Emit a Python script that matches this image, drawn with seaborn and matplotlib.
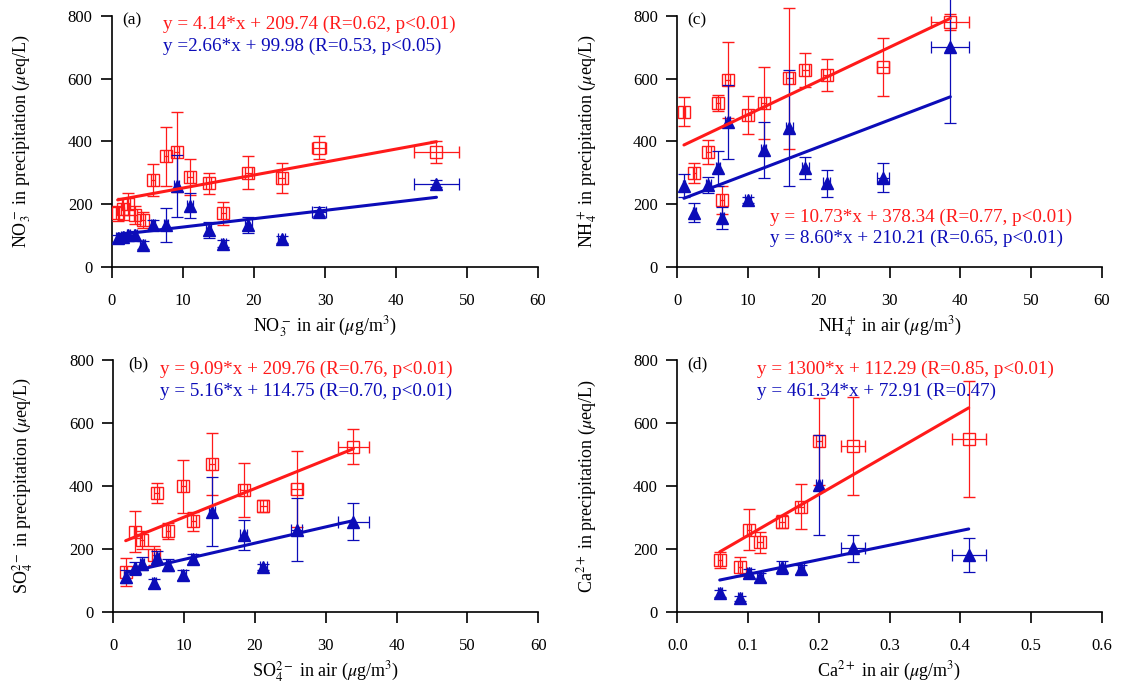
import numpy as np
import pandas as pd
import matplotlib
matplotlib.use("Agg")
import matplotlib.pyplot as plt
import seaborn as sns

sns.set_theme(style="ticks")
plt.rcParams["font.family"] = ["Liberation Serif", "DejaVu Serif"]
plt.rcParams["mathtext.fontset"] = "stix"

RED = "#ff1a1a"
BLUE = "#0c0cb8"

# (a) NO3-
no3_air = [0.8, 1.5, 2.3, 3.3, 4.3, 5.8, 7.6, 9.1, 11.0, 13.6, 15.7, 19.2, 23.9, 29.2, 45.7]
no3_air_err = [0.2, 0.2, 0.2, 0.2, 0.3, 0.3, 0.3, 0.3, 0.4, 0.4, 0.4, 0.5, 0.5, 1.0, 3.2]
no3_red = [170, 185, 200, 165, 150, 277, 352, 365, 287, 266, 170, 300, 282, 380, 365]
no3_red_err = [25, 35, 35, 30, 25, 50, 95, 128, 57, 33, 37, 52, 48, 36, 35]
no3_blue = [90, 95, 100, 100, 70, 133, 133, 258, 195, 117, 74, 133, 87, 176, 265]
no3_blue_err = [10, 12, 12, 15, 12, 15, 55, 100, 40, 25, 10, 25, 10, 15, 12]

# (b) SO4 2-
so4_air = [1.75, 3.07, 4.0, 5.7, 6.1, 7.7, 9.9, 11.3, 13.9, 18.4, 21.2, 25.9, 33.9]
so4_air_err = [0.2, 0.2, 0.3, 0.3, 0.3, 0.3, 0.3, 0.4, 0.4, 0.5, 0.5, 0.8, 2.2]
so4_red = [127, 254, 228, 180, 378, 256, 398, 288, 470, 387, 336, 390, 525]
so4_red_err = [45, 65, 30, 30, 32, 25, 85, 30, 98, 85, 20, 120, 55]
so4_blue = [111, 138, 153, 90, 172, 148, 117, 168, 318, 244, 143, 260, 286]
so4_blue_err = [20, 20, 20, 15, 20, 20, 15, 15, 110, 48, 10, 100, 58]

# (c) NH4+
nh4_air = [0.94, 2.4, 4.4, 5.8, 6.3, 7.1, 10.0, 12.2, 15.8, 18.1, 21.1, 29.1, 38.6]
nh4_air_err = [0.2, 0.2, 0.3, 0.3, 0.3, 0.3, 0.4, 0.4, 0.5, 0.5, 0.5, 0.8, 2.7]
nh4_red = [495, 298, 367, 522, 213, 596, 484, 521, 601, 628, 612, 638, 780]
nh4_red_err = [45, 32, 38, 25, 45, 120, 60, 115, 225, 53, 50, 93, 25]
nh4_blue = [258, 172, 261, 314, 154, 462, 213, 372, 443, 314, 266, 284, 702]
nh4_blue_err = [37, 30, 25, 55, 35, 118, 10, 90, 185, 35, 43, 47, 245]

# (d) Ca2+
ca_air = [0.060, 0.089, 0.101, 0.117, 0.148, 0.175, 0.200, 0.249, 0.412]
ca_air_err = [0.003, 0.003, 0.003, 0.004, 0.004, 0.004, 0.004, 0.017, 0.024]
ca_red = [164, 143, 260, 220, 286, 334, 541, 527, 548]
ca_red_err = [25, 30, 65, 32, 20, 72, 137, 155, 185]
ca_blue = [58, 42, 122, 109, 141, 135, 403, 201, 180]
ca_blue_err = [10, 8, 15, 15, 20, 15, 160, 42, 55]

# fitted lines (slope, intercept) as printed on the chart
fits = {
    "a": [(4.14, 209.74), (2.66, 99.98)],
    "b": [(9.09, 209.76), (5.16, 114.75)],
    "c": [(10.73, 378.34), (8.60, 210.21)],
    "d": [(1300, 112.29), (461.34, 72.91)],
}
eqs = {
    "a": ["y = 4.14*x + 209.74 (R=0.62, p<0.01)", "y =2.66*x + 99.98 (R=0.53, p<0.05)"],
    "b": ["y = 9.09*x + 209.76 (R=0.76, p<0.01)", "y = 5.16*x + 114.75 (R=0.70, p<0.01)"],
    "c": ["y = 10.73*x + 378.34 (R=0.77, p<0.01)", "y = 8.60*x + 210.21 (R=0.65, p<0.01)"],
    "d": ["y = 1300*x + 112.29 (R=0.85, p<0.01)", "y = 461.34*x + 72.91 (R=0.47)"],
}
ylabels = {
    "a": r"NO$_3^-$ in precipitation ($\mu$eq/L)",
    "b": r"SO$_4^{2-}$ in precipitation ($\mu$eq/L)",
    "c": r"NH$_4^+$ in precipitation ($\mu$eq/L)",
    "d": r"Ca$^{2+}$ in precipitation ($\mu$eq/L)",
}
xlabels = {
    "a": r"NO$_3^-$ in air ($\mu$g/m$^3$)",
    "b": r"SO$_4^{2-}$ in air ($\mu$g/m$^3$)",
    "c": r"NH$_4^+$ in air ($\mu$g/m$^3$)",
    "d": r"Ca$^{2+}$ in air ($\mu$g/m$^3$)",
}

fig = plt.figure(figsize=(11.21, 7), dpi=100)
W, H = 1121, 700
rects = {
    "a": [112 / W, 1 - 266.7 / H, 426 / W, 250.7 / H],
    "c": [677.3 / W, 1 - 266.7 / H, 424.4 / W, 250.7 / H],
    "b": [113.3 / W, 1 - 611.7 / H, 425 / W, 251.7 / H],
    "d": [677.3 / W, 1 - 611.7 / H, 424.4 / W, 251.7 / H],
}


def panel(key, x, xerr, ry, ryerr, by, byerr, xmax, tag_x, txt_pos):
    ax = fig.add_axes(rects[key])
    x = np.array(x)
    df = pd.DataFrame({"x": x, "red": ry, "blue": by})

    ax.errorbar(df["x"], df["red"], yerr=ryerr, xerr=xerr, fmt="s", ms=9,
                mfc="none", mec=RED, mew=1, ecolor=RED, elinewidth=0.9,
                capsize=4.5, capthick=0.9, clip_on=False, zorder=3)
    ax.errorbar(df["x"], df["blue"], yerr=byerr, xerr=xerr, fmt="^", ms=9,
                mfc=BLUE, mec=BLUE, ecolor=BLUE, elinewidth=0.9,
                capsize=4.5, capthick=0.9, clip_on=False, zorder=4)

    fx = np.array([x.min(), x.max()])
    (rs, ri), (bs, bi) = fits[key]
    sns.lineplot(x=fx, y=rs * fx + ri, ax=ax, color=RED, lw=2.2, zorder=5)
    sns.lineplot(x=fx, y=bs * fx + bi, ax=ax, color=BLUE, lw=2.2, zorder=5)

    ax.set_xlim(0, xmax)
    ax.set_ylim(0, 800)
    ax.set_yticks([0, 200, 400, 600, 800])
    if xmax < 1:
        ax.set_xticks(np.arange(0, 0.61, 0.1))
        ax.set_xticklabels([f"{t:.1f}" for t in np.arange(0, 0.61, 0.1)])
    else:
        ax.set_xticks(range(0, 61, 10))
    sns.despine(ax=ax)
    for s in ["left", "bottom"]:
        ax.spines[s].set_color("black")
        ax.spines[s].set_linewidth(1.2)
    ax.tick_params(direction="out", length=8, width=1.2, labelsize=12,
                   colors="black", pad=6)
    ax.tick_params(axis="x", pad=11)

    ax.set_ylabel(ylabels[key], fontsize=13, color="black")
    ax.set_xlabel(xlabels[key], fontsize=13, color="black")
    ax.yaxis.set_label_coords(-0.185, 0.5)
    ax.xaxis.set_label_coords(0.5, -0.19)

    ax.text(tag_x, 785, f"({key})", fontsize=12.5, va="center", color="black")
    (tx, ty1, ty2) = txt_pos
    ax.text(tx, ty1, eqs[key][0], color=RED, fontsize=13.8, va="center")
    ax.text(tx, ty2, eqs[key][1], color=BLUE, fontsize=13.8, va="center")
    return ax


panel("a", no3_air, no3_air_err, no3_red, no3_red_err, no3_blue, no3_blue_err,
      60, 1.5, (7.2, 773, 703))
panel("b", so4_air, so4_air_err, so4_red, so4_red_err, so4_blue, so4_blue_err,
      60, 2.1, (6.6, 769, 699))
panel("c", nh4_air, nh4_air_err, nh4_red, nh4_red_err, nh4_blue, nh4_blue_err,
      60, 1.4, (13.1, 159, 92))
panel("d", ca_air, ca_air_err, ca_red, ca_red_err, ca_blue, ca_blue_err,
      0.6, 0.014, (0.113, 769, 699))

fig.savefig("out.png", dpi=100)
